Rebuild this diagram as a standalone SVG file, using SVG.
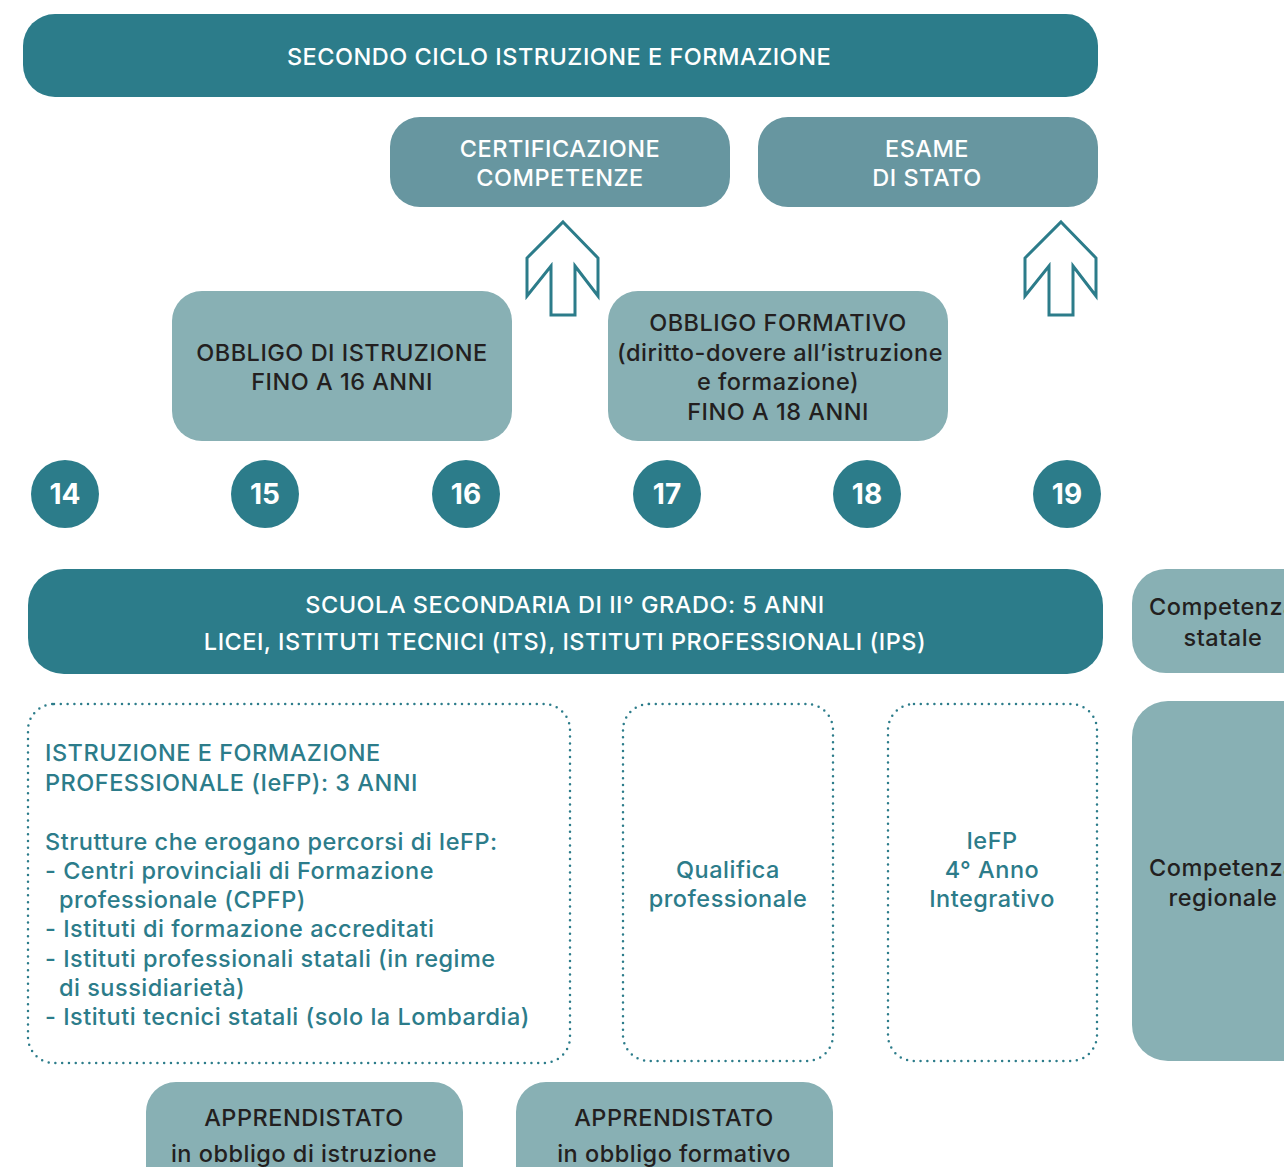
<svg xmlns="http://www.w3.org/2000/svg" width="1284" height="1167" viewBox="0 0 1284 1167">
<style>
  .dark { fill: #2C7C8A; }
  .mid { fill: #6796A0; }
  .light { fill: #88B0B4; }
  .dotted { fill: none; stroke: #2C7C8A; stroke-width: 2.5; stroke-dasharray: 0 6.8; stroke-linecap: round; }
  text { font-family: Inter, Roboto, "Liberation Sans", sans-serif; font-size: 23.5px; font-weight: 500; letter-spacing: 0.5px; }
  .w { fill: #FFFFFF; text-anchor: middle; }
  .k { fill: #231F20; text-anchor: middle; }
  .t { fill: #2C7C8A; }
  .tc { fill: #2C7C8A; text-anchor: middle; }
  .num { fill: #FFFFFF; text-anchor: middle; font-weight: 700; font-size: 28px; letter-spacing: 0; }
  .arrow { fill: #FFFFFF; stroke: #2C7C8A; stroke-width: 3; stroke-linejoin: miter; }
</style>
<rect width="1284" height="1167" fill="#FFFFFF"/>

<g id="header">
  <rect class="dark" x="23" y="14" width="1075" height="83" rx="32"/>
  <text class="w" x="559" y="64.5">SECONDO CICLO ISTRUZIONE E FORMAZIONE</text>
</g>

<g id="certificazione">
  <rect class="mid" x="390" y="117" width="340" height="90" rx="30"/>
  <text class="w" x="560" y="156.5">CERTIFICAZIONE</text>
  <text class="w" x="560" y="185.5">COMPETENZE</text>
</g>

<g id="esame">
  <rect class="mid" x="758" y="117" width="340" height="90" rx="30"/>
  <text class="w" x="927" y="156.5">ESAME</text>
  <text class="w" x="927" y="185.5">DI STATO</text>
</g>

<g id="connectors">
  <polygon class="arrow" points="563,222 598,258 598,296 575,266 575,315 551,315 551,266 527,296 527,258"/>
  <polygon class="arrow" points="1061,222 1096,258 1096,296 1073,266 1073,315 1049,315 1049,266 1025,296 1025,258"/>
</g>

<g id="obbligo-istruzione">
  <rect class="light" x="172" y="291" width="340" height="150" rx="30"/>
  <text class="k" x="342" y="360.5">OBBLIGO DI ISTRUZIONE</text>
  <text class="k" x="342" y="389.5">FINO A 16 ANNI</text>
</g>

<g id="obbligo-formativo">
  <rect class="light" x="608" y="291" width="340" height="150" rx="30"/>
  <text class="k" x="778" y="330.5">OBBLIGO FORMATIVO</text>
  <text class="k" x="780" y="360.5">(diritto-dovere all’istruzione</text>
  <text class="k" x="778" y="389.5">e formazione)</text>
  <text class="k" x="778" y="419.5">FINO A 18 ANNI</text>
</g>

<g id="age-14"><circle class="dark" cx="65" cy="494" r="34"/><text class="num" x="65" y="504">14</text></g>
<g id="age-15"><circle class="dark" cx="265" cy="494" r="34"/><text class="num" x="265" y="504">15</text></g>
<g id="age-16"><circle class="dark" cx="466" cy="494" r="34"/><text class="num" x="466" y="504">16</text></g>
<g id="age-17"><circle class="dark" cx="667" cy="494" r="34"/><text class="num" x="667" y="504">17</text></g>
<g id="age-18"><circle class="dark" cx="867" cy="494" r="34"/><text class="num" x="867" y="504">18</text></g>
<g id="age-19"><circle class="dark" cx="1067" cy="494" r="34"/><text class="num" x="1067" y="504">19</text></g>

<g id="scuola-secondaria">
  <rect class="dark" x="28" y="569" width="1075" height="105" rx="36"/>
  <text class="w" x="565" y="612.5">SCUOLA SECONDARIA DI II° GRADO: 5 ANNI</text>
  <text class="w" x="565" y="649.5">LICEI, ISTITUTI TECNICI (ITS), ISTITUTI PROFESSIONALI (IPS)</text>
</g>

<g id="competenza-statale">
  <rect class="light" x="1132" y="569" width="220" height="104" rx="34"/>
  <text class="k" x="1223" y="615">Competenza</text>
  <text class="k" x="1223" y="646">statale</text>
</g>

<g id="competenza-regionale">
  <rect class="light" x="1132" y="701" width="220" height="360" rx="36"/>
  <text class="k" x="1223" y="876">Competenza</text>
  <text class="k" x="1223" y="906">regionale</text>
</g>

<g id="iefp">
  <rect class="dotted" x="28" y="704" width="542" height="359" rx="26"/>
  <text class="t" x="45" y="760.5">ISTRUZIONE E FORMAZIONE</text>
  <text class="t" x="45" y="790.5">PROFESSIONALE (IeFP): 3 ANNI</text>
  <text class="t" x="45" y="849.5">Strutture che erogano percorsi di IeFP:</text>
  <text class="t" x="45" y="878.5">- Centri provinciali di Formazione</text>
  <text class="t" x="59" y="907.5">professionale (CPFP)</text>
  <text class="t" x="45" y="936.5">- Istituti di formazione accreditati</text>
  <text class="t" x="45" y="966.5">- Istituti professionali statali (in regime</text>
  <text class="t" x="59" y="995.5">di sussidiarietà)</text>
  <text class="t" x="45" y="1024.5">- Istituti tecnici statali (solo la Lombardia)</text>
</g>

<g id="qualifica">
  <rect class="dotted" x="623" y="704" width="210" height="357" rx="26"/>
  <text class="tc" x="728" y="877.5">Qualifica</text>
  <text class="tc" x="728" y="906.5">professionale</text>
</g>

<g id="quarto-anno">
  <rect class="dotted" x="888" y="704" width="209" height="357" rx="26"/>
  <text class="tc" x="992" y="848.5">IeFP</text>
  <text class="tc" x="992" y="877.5">4° Anno</text>
  <text class="tc" x="992" y="906.5">Integrativo</text>
</g>

<g id="apprendistato-istruzione">
  <rect class="light" x="146" y="1082" width="317" height="130" rx="30"/>
  <text class="k" x="304" y="1125.5">APPRENDISTATO</text>
  <text class="k" x="304" y="1161.5">in obbligo di istruzione</text>
</g>

<g id="apprendistato-formativo">
  <rect class="light" x="516" y="1082" width="317" height="130" rx="30"/>
  <text class="k" x="674" y="1125.5">APPRENDISTATO</text>
  <text class="k" x="674" y="1161.5">in obbligo formativo</text>
</g>
</svg>
